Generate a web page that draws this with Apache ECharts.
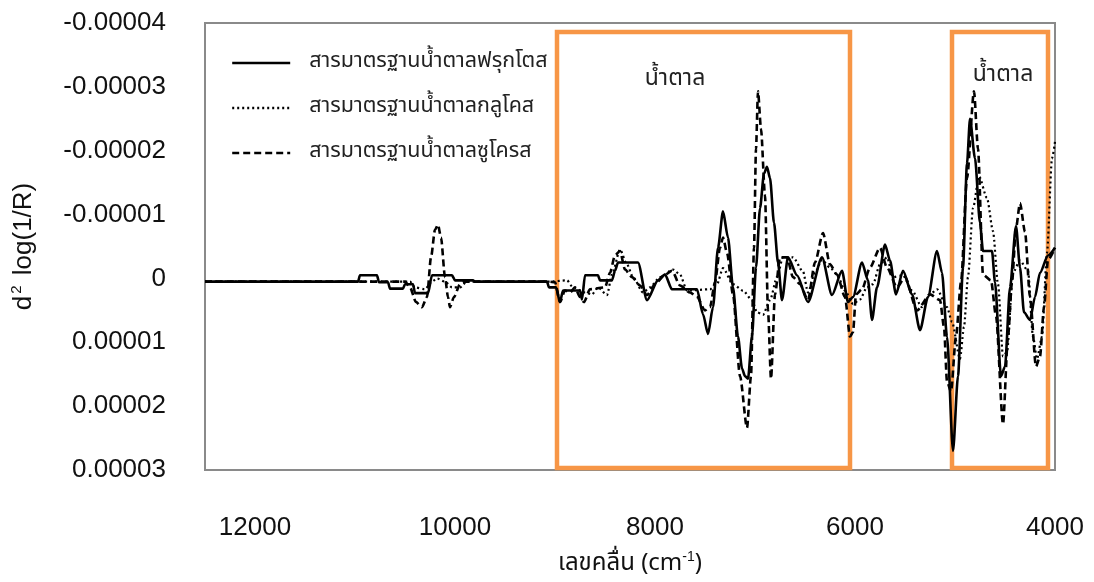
<!DOCTYPE html>
<html>
<head>
<meta charset="utf-8">
<script src="https://cdn.jsdelivr.net/npm/echarts@6/dist/echarts.min.js"></script>
<style>
  html, body { margin: 0; padding: 0; background: #ffffff; }
  #chart { width: 1094px; height: 582px; }
</style>
</head>
<body>
<div id="chart"></div>
<script>
// Second-derivative NIR spectra of sugar standards: [wavenumber (cm-1), d2 log(1/R)]
const fructose = [
  [12500, 0.05e-5], [10970, 0.05e-5], [10950, -0.05e-5], [10780, -0.05e-5], [10760, 0.06e-5],
  [10670, 0.06e-5], [10650, 0.16e-5], [10520, 0.16e-5], [10500, 0.09e-5], [10420, 0.09e-5],
  [10400, 0.23e-5], [10270, 0.23e-5], [10230, -0.05e-5], [10030, -0.05e-5], [10000, 0.03e-5],
  [9820, 0.03e-5], [9800, 0.05e-5], [9080, 0.05e-5], [9060, 0.14e-5], [8990, 0.14e-5],
  [8950, 0.37e-5], [8920, 0.19e-5], [8750, 0.19e-5], [8730, 0.33e-5], [8700, -0.05e-5],
  [8570, -0.05e-5], [8550, 0.03e-5], [8430, 0.03e-5], [8400, -0.12e-5], [8370, -0.25e-5],
  [8170, -0.25e-5], [8080, 0.34e-5], [7970, 0.03e-5], [7900, -0.06e-5], [7830, 0.17e-5],
  [7580, 0.17e-5], [7520, 0.56e-5], [7470, 0.87e-5], [7420, 0.45e-5], [7370, -0.48e-5],
  [7320, -1.05e-5], [7270, -0.64e-5], [7220, 0.14e-5], [7170, 0.91e-5], [7130, 1.41e-5],
  [7100, 1.53e-5], [7070, 1.57e-5], [7030, 0.91e-5], [6990, -0.17e-5], [6950, -1.10e-5],
  [6910, -1.64e-5], [6880, -1.75e-5], [6850, -1.57e-5], [6810, -0.87e-5], [6770, -0.25e-5],
  [6730, 0.34e-5], [6670, -0.33e-5], [6580, -0.05e-5], [6470, 0.37e-5], [6330, -0.33e-5],
  [6230, 0.26e-5], [6130, -0.12e-5], [6070, 0.37e-5], [6020, 0.29e-5], [5930, -0.25e-5],
  [5870, 0.03e-5], [5830, 0.65e-5], [5780, 0.14e-5], [5700, -0.53e-5], [5650, -0.28e-5],
  [5590, 0.25e-5], [5520, -0.12e-5], [5430, 0.25e-5], [5350, 0.81e-5], [5270, 0.29e-5],
  [5180, -0.43e-5], [5130, -0.09e-5], [5080, 0.91e-5], [5020, 2.70e-5], [4970, 1.53e-5],
  [4920, -0.17e-5], [4880, -1.80e-5], [4850, -2.50e-5], [4800, -1.88e-5], [4750, -0.87e-5],
  [4720, -0.43e-5], [4630, -0.43e-5], [4600, 0.06e-5], [4540, 1.53e-5], [4500, 1.38e-5],
  [4450, 0.14e-5], [4390, -0.82e-5], [4350, -0.17e-5], [4310, 0.53e-5], [4250, 0.65e-5],
  [4200, 0.29e-5], [4150, -0.09e-5], [4070, -0.36e-5], [4000, -0.48e-5]
];

const glucose = [
  [12500, 0.05e-5], [10450, 0.05e-5], [10400, 0.14e-5], [10300, 0.17e-5], [10230, 0.05e-5],
  [10180, 0.00e-5], [10100, 0.05e-5], [10030, 0.14e-5], [9950, 0.14e-5], [9880, 0.05e-5],
  [9060, 0.05e-5], [8880, 0.03e-5], [8820, 0.14e-5], [8700, 0.22e-5], [8630, 0.25e-5],
  [8570, 0.14e-5], [8480, 0.26e-5], [8430, -0.06e-5], [8350, -0.45e-5], [8280, -0.22e-5],
  [8220, -0.02e-5], [8120, 0.22e-5], [8050, 0.14e-5], [7950, -0.02e-5], [7820, -0.14e-5],
  [7750, -0.06e-5], [7680, 0.19e-5], [7450, 0.17e-5], [7380, 0.09e-5], [7320, -0.16e-5],
  [7220, 0.09e-5], [7120, 0.19e-5], [7030, 0.34e-5], [6980, 0.53e-5], [6920, 0.57e-5],
  [6850, 0.34e-5], [6780, -0.02e-5], [6720, -0.33e-5], [6620, -0.33e-5], [6520, -0.11e-5],
  [6470, 0.22e-5], [6400, -0.09e-5], [6330, -0.29e-5], [6250, -0.17e-5], [6180, -0.06e-5],
  [6100, 0.19e-5], [6020, 0.40e-5], [5950, 0.33e-5], [5880, 0.14e-5], [5820, 0.09e-5],
  [5750, -0.22e-5], [5680, -0.33e-5], [5620, -0.02e-5], [5520, -0.05e-5], [5430, 0.19e-5],
  [5330, 0.45e-5], [5250, 0.25e-5], [5180, 0.17e-5], [5080, 0.45e-5], [5030, 0.68e-5],
  [4950, 1.26e-5], [4910, 0.76e-5], [4870, -0.02e-5], [4820, -1.10e-5], [4760, -1.60e-5],
  [4680, -1.26e-5], [4620, -0.74e-5], [4570, 0.09e-5], [4520, 1.22e-5], [4480, 1.15e-5],
  [4420, -0.09e-5], [4350, -0.28e-5], [4270, -0.12e-5], [4220, 0.91e-5], [4180, 1.26e-5],
  [4130, 0.91e-5], [4080, -0.40e-5], [4030, -1.88e-5], [4000, -2.14e-5]
];

const sucrose = [
  [12500, 0.05e-5], [10500, 0.05e-5], [10450, 0.14e-5], [10390, 0.37e-5], [10330, 0.45e-5],
  [10280, 0.29e-5], [10240, -0.33e-5], [10200, -0.76e-5], [10170, -0.84e-5], [10140, -0.64e-5],
  [10100, -0.02e-5], [10070, 0.29e-5], [10050, 0.45e-5], [10010, 0.29e-5], [9950, 0.09e-5],
  [9900, 0.05e-5], [9060, 0.05e-5], [9000, 0.06e-5], [8950, 0.37e-5], [8900, 0.19e-5],
  [8850, 0.22e-5], [8800, 0.14e-5], [8750, 0.29e-5], [8710, 0.37e-5], [8650, 0.17e-5],
  [8500, 0.14e-5], [8450, -0.09e-5], [8400, -0.36e-5], [8350, -0.43e-5], [8300, -0.14e-5],
  [8230, -0.02e-5], [8150, 0.11e-5], [8080, 0.26e-5], [8000, 0.09e-5], [7900, -0.06e-5],
  [7830, -0.12e-5], [7750, 0.11e-5], [7650, 0.22e-5], [7580, 0.29e-5], [7500, 0.50e-5],
  [7450, 0.45e-5], [7400, 0.06e-5], [7350, -0.48e-5], [7320, -0.64e-5], [7280, -0.40e-5],
  [7220, 0.25e-5], [7150, 1.53e-5], [7080, 2.34e-5], [7040, 1.53e-5], [7010, -0.48e-5],
  [6990, -2.03e-5], [6970, -2.93e-5], [6940, -2.34e-5], [6900, -1.30e-5], [6870, 0.50e-5],
  [6840, 1.57e-5], [6800, 0.25e-5], [6750, -0.33e-5], [6680, -0.33e-5], [6620, -0.02e-5],
  [6550, 0.09e-5], [6470, 0.34e-5], [6400, -0.25e-5], [6320, -0.71e-5], [6250, -0.22e-5],
  [6180, -0.06e-5], [6100, 0.29e-5], [6050, 0.91e-5], [6020, 0.84e-5], [5990, 0.25e-5],
  [5930, 0.17e-5], [5850, -0.17e-5], [5750, -0.48e-5], [5680, -0.17e-5], [5580, 0.14e-5],
  [5500, -0.02e-5], [5380, 0.50e-5], [5250, 0.25e-5], [5150, 0.34e-5], [5110, 0.76e-5],
  [5080, 1.61e-5], [5040, 1.77e-5], [4990, 0.91e-5], [4940, 0.06e-5], [4880, -1.57e-5],
  [4810, -2.93e-5], [4770, -2.03e-5], [4720, -0.06e-5], [4640, 0.03e-5], [4590, 0.59e-5],
  [4520, 2.28e-5], [4470, 0.91e-5], [4430, 0.06e-5], [4390, -0.79e-5], [4350, -1.18e-5],
  [4300, -0.73e-5], [4250, 0.29e-5], [4190, 1.38e-5], [4150, 1.22e-5], [4110, 0.45e-5],
  [4070, -0.29e-5], [4000, -0.48e-5]
];

const seriesNames = [
  'สารมาตรฐานน้ำตาลฟรุกโตส',
  'สารมาตรฐานน้ำตาลกลูโคส',
  'สารมาตรฐานน้ำตาลซูโครส'
];

// Highlighted sugar bands: [from wavenumber, to wavenumber], plus the band label
const bandRanges = [[8980, 6050], [5030, 4070]];
const bandTop = -3.86e-5;
const bandBottom = 2.97e-5;
const bandLabel = 'น้ำตาล';
const bandLabelPoints = [[7800, -3.1e-5], [4520, -3.17e-5]];

const xTicks = { min: 4000, max: 12500, interval: 2000 };
const yTicks = { min: -4e-5, max: 3e-5, interval: 1e-5 };

const FONT = "'Liberation Sans', 'DejaVu Sans', 'Noto Sans', sans-serif";
const THAI_FONT = "'Noto Sans Thai', 'Noto Sans', 'DejaVu Sans', sans-serif";

const chart = echarts.init(document.getElementById('chart'), null, { renderer: 'canvas' });

const lineBase = { type: 'line', symbol: 'none', smooth: 0.25, smoothMonotone: 'x', z: 3 };

chart.setOption({
  animation: false,
  backgroundColor: '#ffffff',
  grid: {
    left: 205, right: 39, top: 23, bottom: 107,
    show: true, borderColor: '#8a8a8a', borderWidth: 2, backgroundColor: 'transparent'
  },
  legend: {
    orient: 'vertical',
    left: 226, top: 46,
    itemWidth: 58, itemHeight: 14, itemGap: 21,
    itemStyle: { opacity: 0 },
    lineStyle: { width: 2.4 },
    data: seriesNames,
    textStyle: { fontFamily: THAI_FONT, fontSize: 21.5, color: '#222', lineHeight: 24, padding: [0, 0, 0, 14] }
  },
  xAxis: {
    type: 'value',
    inverse: true,
    min: xTicks.min, max: xTicks.max, interval: xTicks.interval,
    axisLine: { show: false },
    axisTick: { show: false },
    splitLine: { show: false },
    axisLabel: {
      margin: 45, fontSize: 26, color: '#111', fontFamily: FONT,
      formatter: v => (v % 2000 === 0 ? String(v) : '')
    },
    name: '{a|เลขคลื่น (cm}{s|-1}{a|)}',
    nameLocation: 'middle',
    nameGap: 80,
    nameTextStyle: {
      rich: {
        a: { fontFamily: THAI_FONT, fontSize: 24, color: '#111', lineHeight: 30 },
        s: { fontFamily: FONT, fontSize: 14, color: '#111', verticalAlign: 'top', lineHeight: 30, padding: [0, 0, 12, 0] }
      }
    }
  },
  yAxis: {
    type: 'value',
    inverse: true,
    min: yTicks.min, max: yTicks.max, interval: yTicks.interval,
    axisLine: { show: false },
    axisTick: { show: false },
    splitLine: { show: false },
    axisLabel: {
      margin: 39, fontSize: 26, color: '#111', fontFamily: FONT,
      formatter: v => (Math.abs(v) < 1e-12 ? '0' : v.toFixed(5))
    },
    name: '{a|d}{s|2}{a| log(1/R)}',
    nameLocation: 'middle',
    nameRotate: 90,
    nameGap: 166,
    nameTextStyle: {
      rich: {
        a: { fontFamily: FONT, fontSize: 26, color: '#111', lineHeight: 30 },
        s: { fontFamily: FONT, fontSize: 15, color: '#111', verticalAlign: 'top', lineHeight: 30, padding: [0, 3, 12, 2] }
      }
    }
  },
  series: [
    Object.assign({}, lineBase, {
      name: seriesNames[0],
      data: fructose,
      lineStyle: { color: '#000', width: 2.6, type: 'solid' },
      itemStyle: { color: '#000' },
      markArea: {
        silent: true,
        itemStyle: { color: 'rgba(0,0,0,0)', borderColor: '#F79646', borderWidth: 4.5 },
        label: { show: false },
        data: bandRanges.map(r => [{ coord: [r[0], bandTop] }, { coord: [r[1], bandBottom] }])
      },
      markPoint: {
        silent: true,
        symbol: 'rect',
        symbolSize: 1,
        itemStyle: { color: 'rgba(0,0,0,0)' },
        label: { show: true, position: 'inside', formatter: bandLabel, fontFamily: THAI_FONT, fontSize: 23, color: '#222' },
        data: bandLabelPoints.map(p => ({ coord: p }))
      }
    }),
    Object.assign({}, lineBase, {
      name: seriesNames[1],
      data: glucose,
      lineStyle: { color: '#000', width: 2.2, type: [2, 3] },
      itemStyle: { color: '#000' }
    }),
    Object.assign({}, lineBase, {
      name: seriesNames[2],
      data: sucrose,
      lineStyle: { color: '#000', width: 2.6, type: [7, 4] },
      itemStyle: { color: '#000' }
    })
  ]
});
</script>
</body>
</html>
